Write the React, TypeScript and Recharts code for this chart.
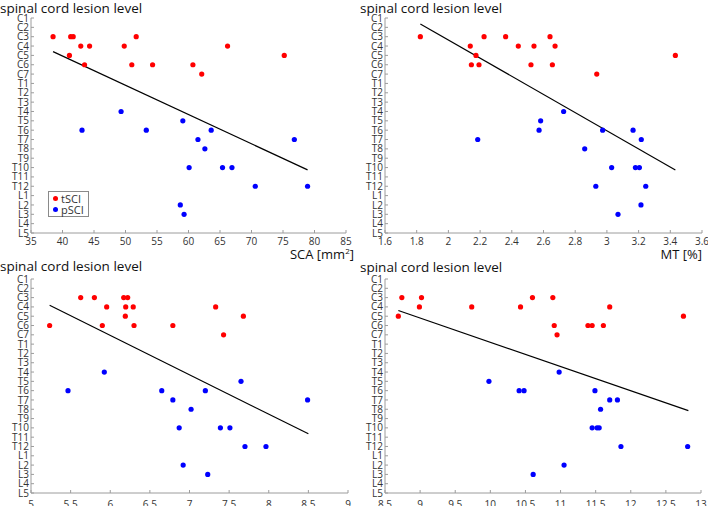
import React from "react";
import { ReferenceLine, Scatter, ScatterChart, XAxis, YAxis } from "recharts";

const levelLabels = [
  "C1", "C2", "C3", "C4", "C5", "C6", "C7",
  "T1", "T2", "T3", "T4", "T5", "T6", "T7", "T8", "T9", "T10", "T11", "T12",
  "L1", "L2", "L3", "L4", "L5",
];
const levelTicks = levelLabels.map((_, i) => i + 1);

// SCA [mm²] vs level
const scaTsciX = [38.5, 41.3, 41.7, 42.9, 44.3, 41.1, 43.5, 49.8, 51.7, 51.0, 54.3, 60.7, 62.1, 66.2, 75.2];
const scaTsciLevel = ["C3", "C3", "C3", "C4", "C4", "C5", "C6", "C4", "C3", "C6", "C6", "C6", "C7", "C4", "C5"];
const scaPsciX = [49.3, 43.1, 53.3, 59.1, 61.5, 60.1, 58.7, 59.3, 63.6, 62.6, 65.4, 66.9, 70.6, 76.8, 78.9];
const scaPsciLevel = ["T4", "T6", "T6", "T5", "T7", "T10", "L2", "L3", "T6", "T8", "T10", "T10", "T12", "T7", "T12"];
const scaFit = [{ x: 38.5, y: 4.6 }, { x: 78.9, y: 17.25 }];
const scaTicks = [35, 40, 45, 50, 55, 60, 65, 70, 75, 80, 85];

// MT [%] vs level
const mtTsciX = [1.823, 2.138, 2.174, 2.145, 2.193, 2.225, 2.361, 2.441, 2.521, 2.54, 2.641, 2.673, 2.656, 2.936, 3.432];
const mtTsciLevel = ["C3", "C4", "C5", "C6", "C6", "C3", "C3", "C4", "C6", "C4", "C3", "C4", "C6", "C7", "C5"];
const mtPsciX = [2.185, 2.727, 2.582, 2.572, 2.973, 3.165, 3.217, 2.86, 3.03, 3.18, 3.205, 2.93, 3.245, 3.215, 3.07];
const mtPsciLevel = ["T7", "T4", "T5", "T6", "T6", "T6", "T7", "T8", "T10", "T10", "T10", "T12", "T12", "L2", "L3"];
const mtFit = [{ x: 1.823, y: 1.64 }, { x: 3.432, y: 17.25 }];
const mtTicks = [1.6, 1.8, 2, 2.2, 2.4, 2.6, 2.8, 3, 3.2, 3.4, 3.6];

// third measure vs level
const c3TsciX = [5.627, 5.8, 6.17, 6.22, 5.955, 6.195, 6.29, 6.19, 5.235, 5.9, 6.3, 6.79, 7.33, 7.68, 7.43];
const c3TsciLevel = ["C3", "C3", "C3", "C3", "C4", "C4", "C4", "C5", "C6", "C6", "C6", "C6", "C4", "C5", "C7"];
const c3PsciX = [5.925, 5.467, 6.65, 6.79, 7.02, 6.87, 6.92, 7.2, 7.65, 7.39, 7.51, 7.7, 7.965, 7.23, 8.49];
const c3PsciLevel = ["T4", "T6", "T6", "T7", "T8", "T10", "L2", "T6", "T5", "T10", "T10", "T12", "T12", "L3", "T7"];
const c3Fit = [{ x: 5.235, y: 3.82 }, { x: 8.5, y: 17.64 }];
const c3Ticks = [5, 5.5, 6, 6.5, 7, 7.5, 8, 8.5, 9];

// fourth measure vs level
const c4TsciX = [8.74, 9.02, 8.99, 8.69, 9.735, 10.43, 10.6, 10.89, 10.91, 10.95, 11.39, 11.45, 11.61, 11.7, 12.75];
const c4TsciLevel = ["C3", "C3", "C4", "C5", "C4", "C4", "C3", "C3", "C6", "C7", "C6", "C6", "C6", "C4", "C5"];
const c4PsciX = [9.98, 10.41, 10.48, 10.61, 10.98, 11.05, 11.49, 11.7, 11.81, 11.57, 11.45, 11.52, 11.55, 11.86, 12.81];
const c4PsciLevel = ["T5", "T6", "T6", "L3", "T4", "L2", "T6", "T7", "T7", "T8", "T10", "T10", "T10", "T12", "T12"];
const c4Fit = [{ x: 8.69, y: 4.39 }, { x: 12.82, y: 15.14 }];
const c4Ticks = [8.5, 9, 9.5, 10, 10.5, 11, 11.5, 12, 12.5, 13];

const FONT = "'Open Sans', sans-serif";
const AXIS = "#9c9c9c";
const TEXT = "#333333";
const RED = "#ff0000";
const BLUE = "#0000ff";

const toPoints = (xs: number[], lv: string[]) =>
  xs.map((x, i) => ({ x, y: levelLabels.indexOf(lv[i]) + 1 }));

const makeDot = (color: string) => (props: any) =>
  <circle cx={props.cx} cy={props.cy} r={2.6} fill={color} />;

interface PanelProps {
  left: number;
  top: number;
  margin: { top: number; right: number; bottom: number; left: number };
  xAxisHeight: number;
  xTickMargin: number;
  xTicks: number[];
  tsci: { x: number; y: number }[];
  psci: { x: number; y: number }[];
  fit: { x: number; y: number }[];
  titleLeft: number;
  titleTop: number;
  xLabel?: React.ReactNode;
  xLabelRight?: number;
  legend?: boolean;
}

const W = 354;
const H = 253;

const Panel: React.FC<PanelProps> = (p) => {
  const domain = [p.xTicks[0], p.xTicks[p.xTicks.length - 1]];
  const tickStyle = { fill: TEXT, fontSize: 10, fontFamily: FONT };
  return (
    <div style={{ position: "absolute", left: p.left, top: p.top, width: W, height: H }}>
      <div
        style={{
          position: "absolute",
          left: p.titleLeft,
          top: p.titleTop,
          fontFamily: FONT,
          fontSize: 13.5,
          color: "#111",
          whiteSpace: "nowrap",
          lineHeight: "14px",
        }}
      >
        spinal cord lesion level
      </div>
      <ScatterChart width={W} height={H} margin={p.margin} style={{ overflow: "visible" }}>
        <XAxis
          xAxisId="b"
          type="number"
          dataKey="x"
          domain={domain}
          ticks={p.xTicks}
          interval={0}
          height={p.xAxisHeight}
          stroke={AXIS}
          tickSize={-3}
          tickMargin={p.xTickMargin}
          tick={tickStyle}
          allowDataOverflow
        />
        <XAxis
          xAxisId="t"
          orientation="top"
          type="number"
          domain={domain}
          ticks={p.xTicks}
          interval={0}
          height={0}
          mirror
          stroke={AXIS}
          tickSize={3}
          tickFormatter={() => ""}
          allowDataOverflow
        />
        <YAxis
          yAxisId="l"
          type="number"
          dataKey="y"
          domain={[1, 24]}
          ticks={levelTicks}
          interval={0}
          reversed
          width={31}
          stroke={AXIS}
          tickSize={-3}
          tickMargin={5}
          tick={tickStyle}
          tickFormatter={(v: number) => levelLabels[v - 1]}
          allowDataOverflow
        />
        <YAxis
          yAxisId="r"
          orientation="right"
          type="number"
          domain={[1, 24]}
          ticks={levelTicks}
          interval={0}
          reversed
          width={0}
          mirror
          stroke={AXIS}
          tickSize={3}
          tickFormatter={() => ""}
          allowDataOverflow
        />
        <ReferenceLine
          xAxisId="b"
          yAxisId="l"
          segment={p.fit}
          stroke="#000"
          strokeWidth={1.2}
        />
        <Scatter
          xAxisId="b"
          yAxisId="l"
          data={p.tsci}
          shape={makeDot(RED)}
          isAnimationActive={false}
        />
        <Scatter
          xAxisId="b"
          yAxisId="l"
          data={p.psci}
          shape={makeDot(BLUE)}
          isAnimationActive={false}
        />
      </ScatterChart>
      {p.xLabel && (
        <div
          style={{
            position: "absolute",
            right: p.xLabelRight,
            top: 249,
            fontFamily: FONT,
            fontSize: 13,
            color: "#111",
            whiteSpace: "nowrap",
            lineHeight: "11px",
          }}
        >
          {p.xLabel}
        </div>
      )}
      {p.legend && (
        <div
          style={{
            position: "absolute",
            left: 48,
            top: 191,
            width: 39,
            height: 24,
            border: "1px solid #8a8a8a",
            background: "#fff",
            fontFamily: FONT,
            fontSize: 11,
            color: TEXT,
            lineHeight: "11px",
          }}
        >
          <div style={{ position: "relative", height: 12 }}>
            <span style={{ position: "absolute", left: 4, top: 4, width: 5, height: 5, borderRadius: 3, background: RED }} />
            <span style={{ position: "absolute", left: 12, top: 1 }}>tSCI</span>
          </div>
          <div style={{ position: "relative", height: 12 }}>
            <span style={{ position: "absolute", left: 4, top: 3, width: 5, height: 5, borderRadius: 3, background: BLUE }} />
            <span style={{ position: "absolute", left: 12, top: 0 }}>pSCI</span>
          </div>
        </div>
      )}
    </div>
  );
};

export default function App() {
  return (
    <div style={{ position: "absolute", left: 0, top: 0, width: 708, height: 506, background: "#fff", overflow: "hidden" }}>
      <Panel
        left={0}
        top={0}
        margin={{ top: 18, right: 8, bottom: 0, left: 0 }}
        xAxisHeight={20}
        xTickMargin={8}
        xTicks={scaTicks}
        tsci={toPoints(scaTsciX, scaTsciLevel)}
        psci={toPoints(scaPsciX, scaPsciLevel)}
        fit={scaFit}
        titleLeft={0}
        titleTop={1}
        xLabel={<span>SCA [mm<sup style={{ fontSize: 8, lineHeight: 0 }}>2</sup>]</span>}
        xLabelRight={0}
        legend
      />
      <Panel
        left={354}
        top={0}
        margin={{ top: 18, right: 6, bottom: 0, left: 0 }}
        xAxisHeight={20}
        xTickMargin={8}
        xTicks={mtTicks}
        tsci={toPoints(mtTsciX, mtTsciLevel)}
        psci={toPoints(mtPsciX, mtPsciLevel)}
        fit={mtFit}
        titleLeft={6}
        titleTop={1}
        xLabel="MT [%]"
        xLabelRight={6}
      />
      <Panel
        left={0}
        top={253}
        margin={{ top: 26, right: 6, bottom: 0, left: 0 }}
        xAxisHeight={13}
        xTickMargin={11}
        xTicks={c3Ticks}
        tsci={toPoints(c3TsciX, c3TsciLevel)}
        psci={toPoints(c3PsciX, c3PsciLevel)}
        fit={c3Fit}
        titleLeft={0}
        titleTop={6}
      />
      <Panel
        left={354}
        top={253}
        margin={{ top: 26, right: 7, bottom: 0, left: 0 }}
        xAxisHeight={13}
        xTickMargin={11}
        xTicks={c4Ticks}
        tsci={toPoints(c4TsciX, c4TsciLevel)}
        psci={toPoints(c4PsciX, c4PsciLevel)}
        fit={c4Fit}
        titleLeft={6}
        titleTop={7}
      />
    </div>
  );
}
